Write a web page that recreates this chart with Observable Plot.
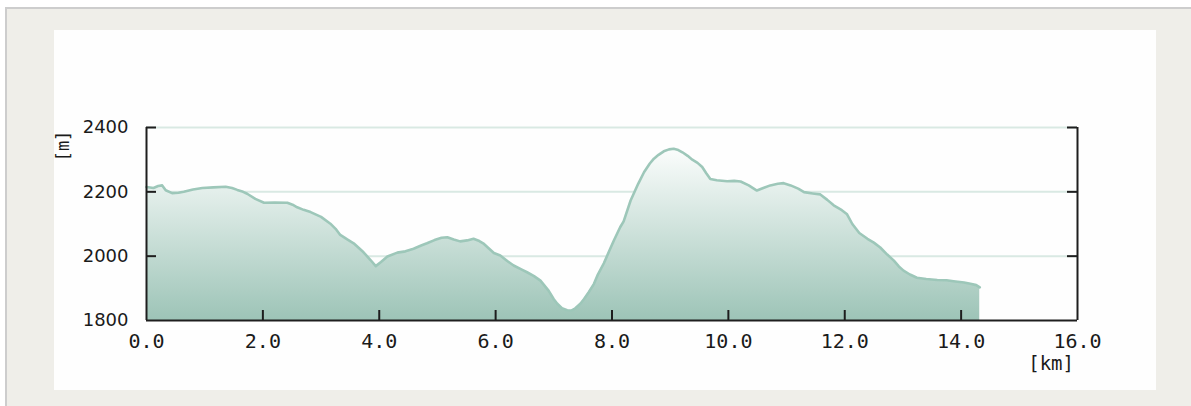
<!DOCTYPE html>
<html>
<head>
<meta charset="utf-8">
<script src="https://cdn.jsdelivr.net/npm/d3@7"></script>
<script src="https://cdn.jsdelivr.net/npm/@observablehq/plot@0.6"></script>
<style>
  html, body { margin: 0; padding: 0; background: #ffffff; width: 1191px; height: 406px; overflow: hidden; }
  #outer { position: absolute; left: 5px; top: 7px; width: 1190px; height: 405px; background: #efeee9;
           border-top: 2px solid #cdcdcd; border-left: 2px solid #cdcdcd; }
  #panel { position: absolute; left: 54px; top: 30px; width: 1102px; height: 360px; background: #fefefe; }
  #chart { position: absolute; left: 0; top: 0; }
  .unit { position: absolute; font-family: "DejaVu Sans Mono", monospace; color: #1a1a1a; white-space: nowrap; }
</style>
</head>
<body>
<div id="outer"></div>
<div id="panel"></div>
<div id="chart"></div>
<div class="unit" id="kmLabel"></div>
<div class="unit" id="mLabel"></div>
<script>
// ---- data ----
const distanceKm = [0.00,0.12,0.20,0.27,0.33,0.44,0.55,0.64,0.80,0.96,1.15,1.36,1.47,1.56,1.66,1.73,1.87,2.02,2.20,2.42,2.51,2.59,2.70,2.82,3.00,3.16,3.25,3.33,3.45,3.56,3.73,3.85,3.94,4.03,4.14,4.31,4.45,4.59,4.72,4.82,4.95,5.07,5.17,5.28,5.39,5.51,5.62,5.72,5.80,5.97,6.08,6.20,6.31,6.45,6.54,6.66,6.77,6.91,7.00,7.06,7.14,7.23,7.30,7.37,7.46,7.52,7.60,7.69,7.75,7.86,7.95,8.03,8.14,8.20,8.32,8.45,8.55,8.65,8.72,8.80,8.89,8.98,9.06,9.14,9.21,9.30,9.38,9.47,9.55,9.62,9.69,9.80,9.98,10.10,10.21,10.35,10.49,10.60,10.72,10.85,10.95,11.07,11.20,11.30,11.45,11.58,11.70,11.81,11.95,12.04,12.13,12.25,12.39,12.50,12.61,12.73,12.84,12.93,13.01,13.12,13.24,13.40,13.59,13.75,13.87,14.05,14.16,14.26,14.32];
const elevationM = [2215,2212,2218,2220,2205,2196,2197,2200,2207,2212,2214,2216,2212,2206,2200,2194,2178,2166,2167,2166,2160,2152,2144,2137,2122,2101,2085,2066,2052,2040,2012,1988,1969,1982,1999,2011,2015,2023,2033,2040,2050,2057,2059,2052,2046,2049,2054,2047,2038,2010,2002,1985,1971,1958,1950,1938,1924,1893,1866,1852,1838,1832,1831,1838,1853,1867,1888,1914,1940,1978,2015,2048,2090,2108,2173,2225,2261,2288,2303,2315,2326,2332,2334,2330,2323,2312,2300,2290,2277,2258,2240,2236,2233,2234,2232,2220,2204,2212,2220,2225,2227,2220,2210,2199,2195,2192,2175,2158,2143,2130,2100,2072,2054,2042,2027,2005,1987,1968,1955,1943,1933,1929,1926,1925,1922,1918,1914,1910,1903];
const xTicks = [0,2,4,6,8,10,12,14,16];
const yTicks = [1800,2000,2200,2400];
const xUnit = "[km]";
const yUnit = "[m]";

const profile = distanceKm.map((km, i) => ({km, elev: elevationM[i]}));
const xDomain = [xTicks[0], xTicks[xTicks.length - 1]];
const yDomain = [yTicks[0], yTicks[yTicks.length - 1]];

const W = 1191, H = 406;
const mL = 146, mR = 114, mT = 127, mB = 86;
const plotW = W - mL - mR, plotH = H - mT - mB;
const tickLen = 10;
const axisColor = "#1e1e1e";

const defs = () => {
  const d = d3.create("svg:defs");
  const g = d.append("linearGradient").attr("id", "elevGrad").attr("x1", 0).attr("y1", 0).attr("x2", 0).attr("y2", 1);
  g.append("stop").attr("offset", "0%").attr("stop-color", "#fbfdfc");
  g.append("stop").attr("offset", "100%").attr("stop-color", "#9dc4b7");
  return d.node();
};

const chart = Plot.plot({
  width: W, height: H,
  marginLeft: mL, marginRight: mR, marginTop: mT, marginBottom: mB,
  style: {background: "transparent", overflow: "visible"},
  x: {domain: xDomain, axis: null},
  y: {domain: yDomain, axis: null},
  marks: [
    defs,
    Plot.gridY(yTicks.slice(1), {stroke: "#d9e9e3", strokeOpacity: 1, strokeWidth: 2}),
    Plot.areaY(profile, {x: "km", y1: yDomain[0], y2: "elev", fill: "url(#elevGrad)"}),
    Plot.lineY(profile, {x: "km", y: "elev", stroke: "#9dc7b9", strokeWidth: 2.6}),
    Plot.ruleX(xDomain, {stroke: axisColor, strokeWidth: 2}),
    Plot.ruleY([yDomain[0]], {stroke: axisColor, strokeWidth: 2}),
    Plot.tickX(xTicks.slice(1, -1), {x: d => d, stroke: axisColor, strokeWidth: 2, insetTop: plotH - tickLen}),
    Plot.tickY(yTicks.slice(1), {y: d => d, stroke: axisColor, strokeWidth: 2, insetRight: plotW - tickLen}),
    Plot.tickY(yTicks.slice(1), {y: d => d, stroke: axisColor, strokeWidth: 2, insetLeft: plotW - tickLen}),
    Plot.axisX(xTicks, {tickSize: 0, tickPadding: 13, tickFormat: d3.format(".1f"), fontFamily: "DejaVu Sans Mono", fontSize: 20, fill: "#1a1a1a", label: null}),
    Plot.axisY(yTicks, {tickSize: 0, tickPadding: 18, tickFormat: d => String(d), fontFamily: "DejaVu Sans", fontSize: 18, fill: "#1a1a1a", label: null})
  ]
});
document.getElementById("chart").appendChild(chart);

const km = document.getElementById("kmLabel");
km.textContent = xUnit;
km.style.fontSize = "19px";
km.style.right = (W - 1074) + "px";
km.style.top = "352px";

const m = document.getElementById("mLabel");
m.textContent = yUnit;
m.style.fontSize = "17px";
m.style.left = "48px";
m.style.top = "136px";
m.style.transform = "rotate(-90deg)";
</script>
</body>
</html>
